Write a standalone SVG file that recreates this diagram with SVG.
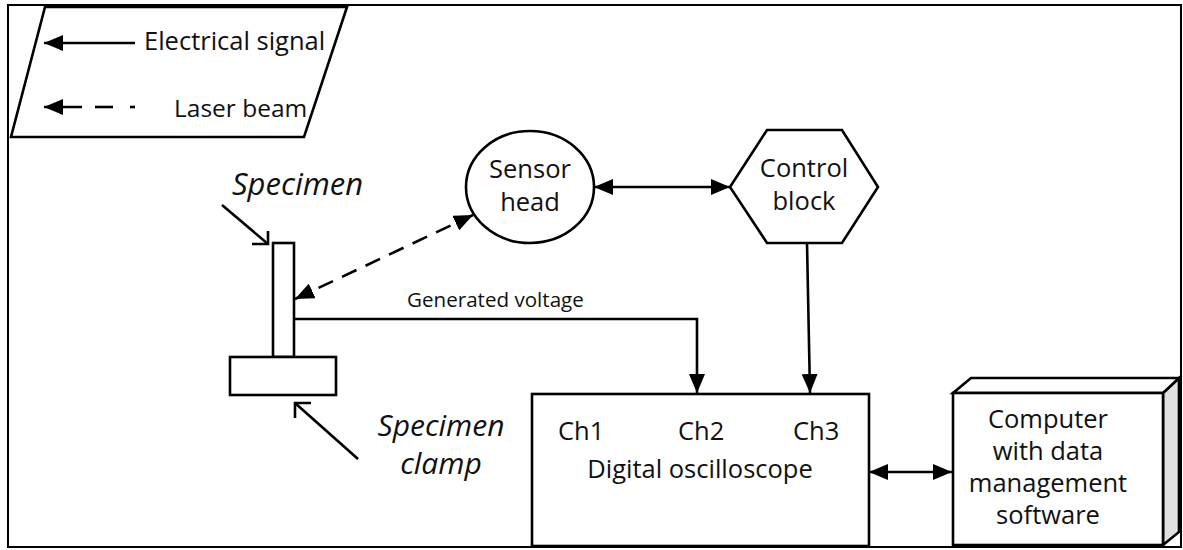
<svg xmlns="http://www.w3.org/2000/svg" width="1183" height="550" viewBox="0 0 1183 550">
<style>
.ln{fill:none;stroke:#000;stroke-width:2.6}
.sh{fill:#fff;stroke:#000;stroke-width:2.6}
.t{font-family:"Open Sans","Noto Sans",sans-serif;font-size:25.5px;fill:#111}
.ts{font-family:"Open Sans","Noto Sans",sans-serif;font-size:20.6px;fill:#111}
.ti{font-family:"Open Sans","Noto Sans",sans-serif;font-size:31px;font-style:italic;fill:#111}
.m{text-anchor:middle}
</style>
<defs>
<marker id="ah" markerUnits="userSpaceOnUse" markerWidth="20" markerHeight="16" refX="19" refY="8" orient="auto-start-reverse" viewBox="0 0 20 16">
<path d="M0,0 L19,8 L0,16 Z" fill="#000"/>
</marker>
</defs>
<rect x="0" y="0" width="1183" height="550" fill="#fff"/>
<rect x="8" y="5" width="1173" height="542" fill="none" stroke="#000" stroke-width="2"/>

<g id="legend">
<polygon class="sh" points="45,7 347,7 304,137 11,137"/>
<line class="ln" x1="135" y1="43" x2="44" y2="43" marker-end="url(#ah)"/>
<text class="t" x="144" y="50">Electrical signal</text>
<line class="ln" x1="82" y1="107" x2="44" y2="107" marker-end="url(#ah)"/>
<line class="ln" x1="95" y1="107" x2="113" y2="107"/>
<line class="ln" x1="130" y1="107" x2="135" y2="107"/>
<text class="t" x="174" y="117" style="font-size:24.5px">Laser beam</text>
</g>

<g id="sensor-head">
<ellipse class="sh" cx="530" cy="187" rx="64" ry="56"/>
<text class="t m" x="530" y="178">Sensor</text>
<text class="t m" x="530" y="211">head</text>
</g>

<g id="control-block">
<polygon class="sh" points="767,130 842,130 878,187 842,243 767,243 730,187"/>
<text class="t m" x="804" y="177">Control</text>
<text class="t m" x="804" y="210">block</text>
</g>

<g id="specimen">
<rect class="sh" x="273" y="243" width="21" height="114"/>
<text class="ti" x="232" y="195">Specimen</text>
</g>

<g id="specimen-clamp">
<rect class="sh" x="230" y="357" width="106" height="38"/>
<text class="ti m" x="441" y="436" style="font-size:30px">Specimen</text>
<text class="ti m" x="441" y="474" style="font-size:30px">clamp</text>
</g>

<g id="oscilloscope">
<rect class="sh" x="532" y="394" width="337" height="152"/>
<text class="t" x="558" y="440">Ch1</text>
<text class="t" x="678" y="440">Ch2</text>
<text class="t" x="793" y="440">Ch3</text>
<text class="t m" x="700" y="478">Digital oscilloscope</text>
</g>

<g id="computer">
<polygon points="1163,393 1179,378 1179,532 1163,545" fill="#e0e0e0" stroke="#000" stroke-width="2.6"/>
<polygon class="sh" points="953,393 971,378 1179,378 1163,393"/>
<rect class="sh" x="953" y="393" width="210" height="152"/>
<text class="t m" x="1048" y="428">Computer</text>
<text class="t m" x="1048" y="460">with data</text>
<text class="t m" x="1048" y="492">management</text>
<text class="t m" x="1048" y="524">software</text>
</g>

<g id="connectors">
<line class="ln" x1="295" y1="299" x2="473" y2="215" stroke-dasharray="16,10" marker-start="url(#ah)" marker-end="url(#ah)"/>
<line class="ln" x1="594" y1="187" x2="730" y2="187" marker-start="url(#ah)" marker-end="url(#ah)"/>
<polyline class="ln" points="294,319 697,319 697,393" marker-end="url(#ah)"/>
<text class="ts" x="407" y="307">Generated voltage</text>
<line class="ln" x1="807" y1="243" x2="810" y2="393" marker-end="url(#ah)"/>
<line class="ln" x1="869" y1="472" x2="952" y2="472" marker-start="url(#ah)" marker-end="url(#ah)"/>
<line class="ln" x1="222" y1="205" x2="268" y2="244"/>
<polyline class="ln" points="252,244 268,244 268,231"/>
<line class="ln" x1="358" y1="459" x2="295" y2="403"/>
<polyline class="ln" points="311,403 295,403 295,418"/>
</g>
</svg>
